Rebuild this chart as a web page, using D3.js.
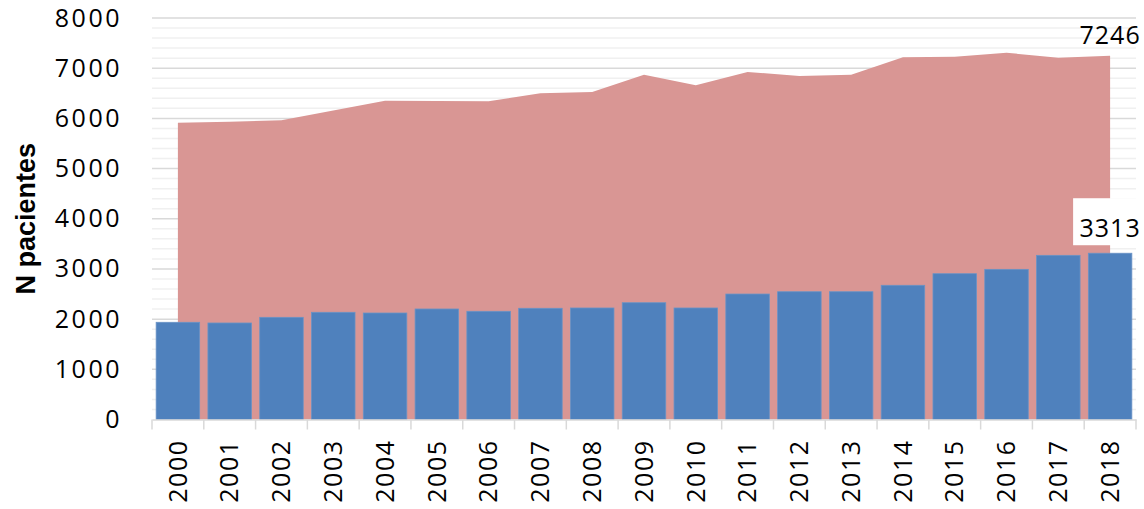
<!DOCTYPE html>
<html>
<head>
<meta charset="utf-8">
<script src="https://cdn.jsdelivr.net/npm/d3@7"></script>
<style>
  html,body{margin:0;padding:0;background:#fff;}
  svg{display:block;}
  .tick-y,.tick-x,.lbl{font-family:'Open Sans',sans-serif;fill:#000;}
  .tick-y{font-size:25px;letter-spacing:2.5px;}
  .tick-x{font-size:25px;letter-spacing:1.5px;}
  .lbl{font-size:25px;letter-spacing:1px;}
</style>
</head>
<body>
<svg id="chart"></svg>
<script>
// data
const years   = ['2000','2001','2002','2003','2004','2005','2006','2007','2008','2009',
                 '2010','2011','2012','2013','2014','2015','2016','2017','2018'];
const total   = [5914,5935,5961,6155,6350,6345,6340,6499,6525,6870,
                 6659,6924,6844,6870,7216,7229,7308,7209,7246];
const treated = [1937,1923,2036,2136,2122,2202,2156,2216,2222,2327,
                 2222,2500,2546,2546,2674,2905,2992,3271,3313];
const yTicks  = [0,1000,2000,3000,4000,5000,6000,7000,8000];
const yMinor  = d3.range(0,8001,200);

const W=1144, H=509;
const M={left:152,right:8,top:18,bottom:89.5};
const svg=d3.select('#chart').attr('width',W).attr('height',H);

const x=d3.scaleBand().domain(years).range([M.left,W-M.right]).paddingInner(0.16).paddingOuter(0.08);
const xs=d3.scaleBand().domain(years).range([M.left,W-M.right]);  // full bands, for ticks/area
const y=d3.scaleLinear().domain([0,8000]).range([H-M.bottom,M.top]);
const cx=d=>xs(d)+xs.bandwidth()/2;

// grid
svg.append('g').selectAll('line').data(yMinor.filter(v=>v%1000!==0)).join('line')
  .attr('x1',M.left).attr('x2',W-M.right).attr('y1',d=>y(d)).attr('y2',d=>y(d))
  .attr('stroke','#f0f0f0').attr('stroke-width',1.5);
svg.append('g').selectAll('line').data(yTicks.slice(1)).join('line')
  .attr('x1',M.left).attr('x2',W-M.right).attr('y1',d=>y(d)).attr('y2',d=>y(d))
  .attr('stroke','#d9d9d9').attr('stroke-width',1.5);

// area (total)
const area=d3.area().x((d,i)=>cx(years[i])).y0(y(0)).y1(d=>y(d));
svg.append('path').datum(total).attr('d',area).attr('fill','#d99694');

// bars
svg.append('g').selectAll('rect').data(treated).join('rect')
  .attr('x',(d,i)=>x(years[i])).attr('width',x.bandwidth())
  .attr('y',d=>y(d)).attr('height',d=>y(0)-y(d))
  .attr('fill','#4f81bd').attr('stroke','#6a93c6').attr('stroke-width',0.8);

// x axis
const xAxis=d3.axisBottom(xs).tickSize(0).tickPadding(0);
const gx=svg.append('g').attr('transform',`translate(0,${y(0)})`).call(xAxis)
  .attr('font-family',null).attr('font-size',null);
gx.select('.domain').attr('stroke','#d9d9d9').attr('stroke-width',1.5);
gx.selectAll('.tick text').attr('class','tick-x')
  .attr('transform','rotate(-90)').attr('text-anchor','end')
  .attr('x',-20).attr('y',0).attr('dy','0.35em');
svg.append('g').selectAll('line').data(years.concat(['end'])).join('line')
  .attr('x1',(d,i)=>M.left+i*xs.step()).attr('x2',(d,i)=>M.left+i*xs.step())
  .attr('y1',y(0)).attr('y2',y(0)+10).attr('stroke','#d9d9d9').attr('stroke-width',1.5);

// y axis
const gy=svg.append('g').attr('transform',`translate(${M.left},0)`)
  .call(d3.axisLeft(y).tickValues(yTicks).tickSize(0).tickPadding(30).tickFormat(d3.format('d')))
  .attr('font-family',null).attr('font-size',null);
gy.select('.domain').remove();
gy.selectAll('.tick text').attr('class','tick-y');

svg.append('text').attr('transform',`translate(35,${(y(0)+y(8000))/2}) rotate(-90)`)
  .attr('text-anchor','middle').attr('font-family','"Liberation Sans",Arial,sans-serif')
  .attr('font-weight','bold').attr('font-size',27).text('N pacientes');

// end labels
const last=years.length-1;
svg.append('text').attr('class','lbl').attr('text-anchor','middle')
  .attr('x',cx(years[last])).attr('y',y(total[last])-12).text(total[last]);
svg.append('rect').attr('x',cx(years[last])-37).attr('y',y(treated[last])-55)
  .attr('width',65).attr('height',47).attr('fill','#fff');
svg.append('text').attr('class','lbl').attr('text-anchor','middle')
  .attr('x',cx(years[last])).attr('y',y(treated[last])-16).text(treated[last]);
</script>
</body>
</html>
